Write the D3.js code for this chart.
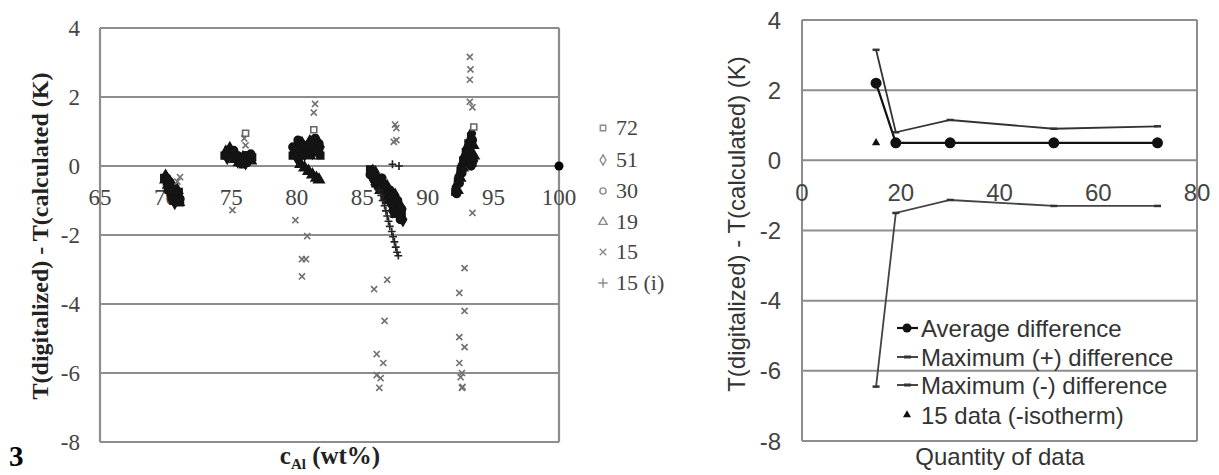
<!DOCTYPE html>
<html><head><meta charset="utf-8">
<script src="https://cdn.jsdelivr.net/npm/d3@7"></script>
<style>html,body{margin:0;padding:0;background:#fff;} svg{display:block;}</style>
</head><body>
<svg id="c" width="1219" height="475"></svg>
<script>
// ---------- data: left panel ----------
const leftXTicks = [65, 70, 75, 80, 85, 90, 95, 100];
const leftYTicks = [-8, -6, -4, -2, 0, 2, 4];
const leftLegend = ["72", "51", "30", "19", "15", "15 (i)"];
const s72 = [[69.9,-0.35],[70.1,-0.45],[70.3,-0.6],[70.5,-0.7],[70.7,-0.85],[70.9,-0.95],[71.1,-1.05],[70.6,-1.0],[71.0,-0.75],
  [74.5,0.3],[74.8,0.45],[75.1,0.4],[75.4,0.25],[75.7,0.1],[76.0,0.2],[76.3,0.3],[76.6,0.25],[75.9,0.05],
  [79.7,0.3],[79.9,0.5],[80.1,0.6],[80.3,0.4],[80.5,0.55],[80.7,0.5],[80.9,0.6],[81.1,0.55],[81.3,0.65],[81.5,0.6],[81.7,0.5],[81.8,0.3],
  [85.6,-0.1],[85.9,-0.25],[86.2,-0.35],[86.5,-0.5],[86.8,-0.65],[87.1,-0.85],[87.4,-1.0],[87.7,-1.2],[88.0,-1.4],[86.0,-0.5],[86.7,-0.9],
  [92.1,-0.75],[92.3,-0.45],[92.5,-0.15],[92.7,0.15],[92.9,0.4],[93.1,0.65],[93.3,0.85],[93.4,0.1]];
const s51 = [[70.0,-0.3],[70.2,-0.5],[70.4,-0.55],[70.6,-0.75],[70.8,-0.8],[71.0,-0.9],[70.7,-1.05],[70.4,-0.85],
  [74.6,0.4],[74.9,0.5],[75.2,0.35],[75.5,0.15],[75.8,0.15],[76.1,0.1],[76.4,0.2],[74.7,0.25],
  [79.8,0.4],[80.0,0.25],[80.2,0.5],[80.4,0.65],[80.6,0.35],[80.8,0.45],[81.0,0.7],[81.2,0.4],[81.4,0.5],[81.6,0.7],[81.8,0.55],
  [85.7,-0.3],[86.0,-0.2],[86.3,-0.55],[86.6,-0.7],[86.9,-0.6],[87.2,-1.1],[87.5,-0.85],[87.8,-1.35],[88.1,-1.55],[87.3,-1.3],
  [92.15,-0.6],[92.35,-0.3],[92.55,0.0],[92.75,0.25],[92.95,0.5],[93.15,0.7],[93.35,0.95],[93.5,0.15]];
const s30 = [[70.1,-0.35],[70.3,-0.45],[70.5,-0.65],[70.7,-0.7],[70.9,-0.85],[71.1,-0.95],[70.5,-0.95],[70.2,-0.7],
  [74.6,0.3],[74.9,0.35],[75.2,0.45],[75.5,0.3],[75.8,0.2],[76.1,0.3],[76.5,0.35],[76.2,0.1],
  [79.7,0.55],[80.0,0.45],[80.3,0.3],[80.6,0.6],[80.9,0.4],[81.2,0.6],[81.5,0.4],[81.7,0.65],[80.1,0.75],[81.4,0.8],
  [85.6,-0.25],[85.9,-0.4],[86.2,-0.6],[86.5,-0.35],[86.8,-0.85],[87.1,-0.7],[87.4,-1.2],[87.7,-1.0],[88.0,-1.25],[87.9,-1.55],
  [92.2,-0.8],[92.4,-0.5],[92.6,-0.2],[92.8,0.1],[93.0,0.35],[93.2,0.55],[93.4,0.75],[93.3,0.0]];
const s19 = [[70.0,-0.4],[70.2,-0.55],[70.4,-0.7],[70.6,-0.6],[70.8,-1.0],[71.0,-1.05],[70.9,-0.7],
  [74.7,0.35],[75.0,0.3],[75.3,0.2],[75.6,0.1],[75.9,0.25],[76.2,0.2],[76.5,0.15],
  [80.3,0.05],[80.6,-0.05],[80.9,-0.15],[81.2,-0.25],[81.5,-0.35],[81.7,-0.4],[79.9,0.35],[81.0,0.3],
  [85.8,-0.15],[86.1,-0.45],[86.4,-0.7],[86.7,-0.55],[87.0,-1.0],[87.3,-0.8],[87.6,-1.4],[87.9,-1.15],
  [92.25,-0.7],[92.45,-0.35],[92.65,-0.05],[92.85,0.2],[93.05,0.45],[93.25,0.7],[93.45,0.6],[93.5,0.3]];
const s72open = [[93.5,1.13],[76.1,0.95],[81.3,1.05]];
const s15 = [[71.1,-0.32],[70.9,-0.45],[75.1,-1.28],[76.0,0.8],[76.1,0.6],[81.4,1.8],[81.3,1.55],
  [79.9,-1.57],[80.8,-2.03],[80.4,-2.7],[80.7,-2.7],[80.4,-3.2],
  [87.5,1.2],[87.6,1.1],[87.4,0.7],[87.6,0.75],[86.9,-3.3],[85.9,-3.57],[86.7,-4.49],[86.1,-5.45],[86.6,-5.71],[86.1,-6.06],[86.4,-6.15],[86.3,-6.43],
  [93.2,3.16],[93.25,2.8],[93.2,2.5],[93.2,1.86],[93.4,1.7],[93.4,-1.36],[92.8,-2.96],[92.4,-3.68],[92.8,-4.2],[92.4,-4.96],
  [92.8,-5.25],[92.4,-5.71],[92.6,-6.0],[92.5,-6.12],[92.6,-6.43],[92.65,-6.4]];
const s15i = [[86.3,-0.7],[86.45,-0.85],[86.55,-1.0],[86.7,-1.15],[86.8,-1.3],[86.9,-1.45],[87.0,-1.6],[87.1,-1.75],
  [87.25,-1.9],[87.35,-2.05],[87.45,-2.2],[87.55,-2.35],[87.65,-2.5],[87.75,-2.6],[87.3,0.05],[87.8,0.0]];
const pureAl = [[100, 0]];

// ---------- data: right panel ----------
const rightXTicks = [0, 20, 40, 60, 80];
const rightYTicks = [-8, -6, -4, -2, 0, 2, 4];
const quantity = [15, 19, 30, 51, 72];
const avgDiff = [2.2, 0.5, 0.5, 0.5, 0.5];
const maxPos = [3.15, 0.8, 1.15, 0.9, 0.97];
const maxNeg = [-6.45, -1.5, -1.13, -1.3, -1.3];
const isoQuantity = [15];
const isoAvg = [0.5];
const rightLegend = ["Average difference", "Maximum (+) difference", "Maximum (-) difference", "15 data (-isotherm)"];

// ---------- drawing ----------
const svg = d3.select("#c");
const serif = "'Liberation Serif','Times New Roman',serif";
const sans = "'Liberation Sans',Arial,sans-serif";
const gridCol = "#8d8d8d";

// LEFT PANEL
const xL = d3.scaleLinear().domain([65, 100]).range([100, 559]);
const yL = d3.scaleLinear().domain([-8, 4]).range([442, 28]);
const gL = svg.append("g");
gL.selectAll("line.grid").data(leftYTicks).join("line")
  .attr("x1", xL(65)).attr("x2", xL(100)).attr("y1", d => yL(d)).attr("y2", d => yL(d))
  .attr("stroke", gridCol).attr("stroke-width", 2.2);
[65, 100].forEach(v => gL.append("line").attr("x1", xL(v)).attr("x2", xL(v)).attr("y1", yL(4)).attr("y2", yL(-8))
  .attr("stroke", gridCol).attr("stroke-width", 2.2));
gL.selectAll("text.yt").data(leftYTicks).join("text")
  .attr("x", 80).attr("y", d => yL(d)).attr("dy", "0.33em").attr("text-anchor", "end")
  .attr("font-family", serif).attr("font-size", 23).attr("fill", "#444").text(d => d);
gL.selectAll("text.xt").data(leftXTicks).join("text")
  .attr("x", d => xL(d)).attr("y", yL(0) + 39).attr("text-anchor", "middle")
  .attr("font-family", serif).attr("font-size", 23).attr("fill", "#444").text(d => d);
gL.append("text").attr("transform", "translate(48,236) rotate(-90)").attr("text-anchor", "middle")
  .attr("font-family", serif).attr("font-weight", "bold").attr("font-size", 24).attr("fill", "#222")
  .text("T(digitalized) - T(calculated (K)");
const xlab = gL.append("text").attr("x", 330).attr("y", 464).attr("text-anchor", "middle")
  .attr("font-family", serif).attr("font-weight", "bold").attr("font-size", 25).attr("fill", "#222");
xlab.append("tspan").text("c");
xlab.append("tspan").attr("font-size", 15).attr("dy", 5).text("Al");
xlab.append("tspan").attr("dy", -5).text(" (wt%)");
svg.append("text").attr("x", 9).attr("y", 466).attr("font-family", serif).attr("font-weight", "bold")
  .attr("font-size", 29).attr("fill", "#000").text("3");

const symX = d3.symbolX || d3.symbolCross;
const symPlus = d3.symbolPlus || d3.symbolCross;
const dark = "#141414";
const seriesL = [
  {name: leftLegend[0], data: s72, type: d3.symbolSquare, size: 48, stroke: dark, fill: dark, sw: 1.5},
  {name: leftLegend[1], data: s51, type: d3.symbolDiamond, size: 48, stroke: dark, fill: dark, sw: 1.5},
  {name: leftLegend[2], data: s30, type: d3.symbolCircle, size: 48, stroke: dark, fill: dark, sw: 1.5},
  {name: leftLegend[3], data: s19, type: d3.symbolTriangle, size: 48, stroke: dark, fill: dark, sw: 1.5},
  {name: leftLegend[4], data: s15, type: symX, size: 26, stroke: "#707070", fill: "none", sw: 1.6},
  {name: leftLegend[5], data: s15i, type: symPlus, size: 22, stroke: "#222", fill: "none", sw: 1.6}
];
seriesL.forEach(s => {
  gL.append("g").selectAll("path").data(s.data).join("path")
    .attr("transform", d => `translate(${xL(d[0])},${yL(d[1])})`)
    .attr("d", d3.symbol().type(s.type).size(s.size))
    .attr("fill", s.fill).attr("stroke", s.stroke).attr("stroke-width", s.sw);
});
gL.append("g").selectAll("path").data(s72open).join("path")
  .attr("transform", d => `translate(${xL(d[0])},${yL(d[1])})`)
  .attr("d", d3.symbol().type(d3.symbolSquare).size(36))
  .attr("fill", "#fff").attr("stroke", "#666").attr("stroke-width", 1.6);
gL.selectAll("circle.pa").data(pureAl).join("circle")
  .attr("cx", d => xL(d[0])).attr("cy", d => yL(d[1])).attr("r", 4.5).attr("fill", "#000");
// left legend
const legY = [128, 160, 191, 222, 252, 283];
seriesL.forEach((s, i) => {
  gL.append("path").attr("transform", `translate(603,${legY[i]})`)
    .attr("d", d3.symbol().type(s.type).size(30)).attr("fill", "none").attr("stroke", "#8a8a8a").attr("stroke-width", 1.4);
  gL.append("text").attr("x", 616).attr("y", legY[i]).attr("dy", "0.34em")
    .attr("font-family", serif).attr("font-size", 22).attr("fill", "#444").text(s.name);
});

// RIGHT PANEL
const xR = d3.scaleLinear().domain([0, 80]).range([802, 1197]);
const yR = d3.scaleLinear().domain([-8, 4]).range([441, 20]);
const gR = svg.append("g");
gR.selectAll("line.grid").data(rightYTicks).join("line")
  .attr("x1", xR(0)).attr("x2", xR(80)).attr("y1", d => yR(d)).attr("y2", d => yR(d))
  .attr("stroke", gridCol).attr("stroke-width", 2);
[0, 80].forEach(v => gR.append("line").attr("x1", xR(v)).attr("x2", xR(v)).attr("y1", yR(4)).attr("y2", yR(-8))
  .attr("stroke", gridCol).attr("stroke-width", 2));
gR.selectAll("text.yt").data(rightYTicks).join("text")
  .attr("x", 781).attr("y", d => yR(d)).attr("dy", "0.36em").attr("text-anchor", "end")
  .attr("font-family", sans).attr("font-size", 24).attr("fill", "#444").text(d => d);
gR.selectAll("text.xt").data(rightXTicks).join("text")
  .attr("x", d => xR(d)).attr("y", yR(0) + 41).attr("text-anchor", "middle")
  .attr("font-family", sans).attr("font-size", 24).attr("fill", "#444").text(d => d);
gR.append("text").attr("transform", "translate(745,224) rotate(-90)").attr("text-anchor", "middle")
  .attr("font-family", sans).attr("font-size", 24).attr("fill", "#333").text("T(digitalized) - T(calculated) (K)");
gR.append("text").attr("x", 1000).attr("y", 465).attr("text-anchor", "middle")
  .attr("font-family", sans).attr("font-size", 24).attr("fill", "#333").text("Quantity of data");

const line = d3.line().x(d => xR(d[0])).y(d => yR(d[1]));
const avgPts = quantity.map((q, i) => [q, avgDiff[i]]);
const posPts = quantity.map((q, i) => [q, maxPos[i]]);
const negPts = quantity.map((q, i) => [q, maxNeg[i]]);
gR.append("path").attr("d", line(negPts)).attr("fill", "none").attr("stroke", "#444").attr("stroke-width", 1.8);
gR.append("path").attr("d", line(posPts)).attr("fill", "none").attr("stroke", "#333").attr("stroke-width", 1.8);
gR.append("path").attr("d", line(avgPts)).attr("fill", "none").attr("stroke", "#111").attr("stroke-width", 2.2);
[posPts, negPts].forEach(pts => {
  gR.append("g").selectAll("line").data(pts).join("line")
    .attr("x1", d => xR(d[0]) - 3.5).attr("x2", d => xR(d[0]) + 3.5)
    .attr("y1", d => yR(d[1])).attr("y2", d => yR(d[1])).attr("stroke", "#333").attr("stroke-width", 2.5);
});
gR.append("g").selectAll("circle").data(avgPts).join("circle")
  .attr("cx", d => xR(d[0])).attr("cy", d => yR(d[1])).attr("r", 5.5).attr("fill", "#111");
gR.append("g").selectAll("path").data(isoQuantity.map((q, i) => [q, isoAvg[i]])).join("path")
  .attr("transform", d => `translate(${xR(d[0])},${yR(d[1])})`)
  .attr("d", d3.symbol().type(d3.symbolTriangle).size(30)).attr("fill", "#111");

// right legend
const rLegY = [328, 357, 385, 415];
rLegY.forEach((y, i) => {
  if (i < 3) {
    gR.append("line").attr("x1", 897).attr("x2", 918).attr("y1", y).attr("y2", y)
      .attr("stroke", i === 0 ? "#111" : "#333").attr("stroke-width", i === 0 ? 2.2 : 1.8);
  }
  if (i === 0) gR.append("circle").attr("cx", 907).attr("cy", y).attr("r", 4.5).attr("fill", "#111");
  if (i === 1 || i === 2) gR.append("line").attr("x1", 904).attr("x2", 911).attr("y1", y).attr("y2", y).attr("stroke", "#333").attr("stroke-width", 3);
  if (i === 3) gR.append("path").attr("transform", `translate(907,${y})`).attr("d", d3.symbol().type(d3.symbolTriangle).size(28)).attr("fill", "#111");
  gR.append("text").attr("x", 921).attr("y", y).attr("dy", "0.36em")
    .attr("font-family", sans).attr("font-size", 24).attr("fill", "#333").text(rightLegend[i]);
});
</script>
</body></html>
